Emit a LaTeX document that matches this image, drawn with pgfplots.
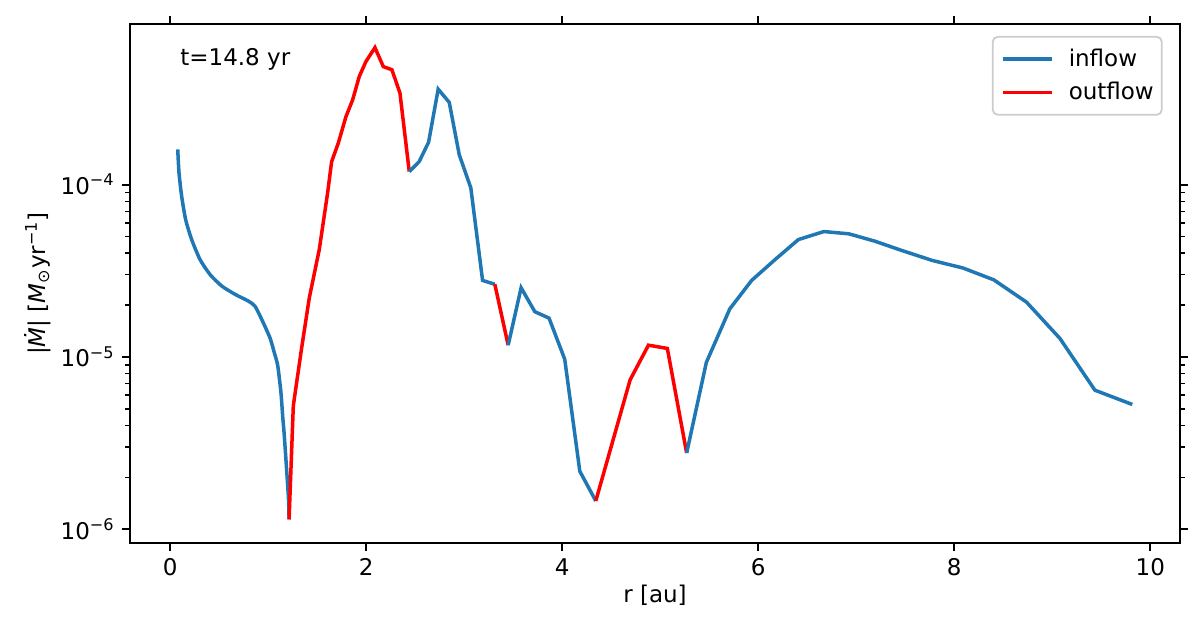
\documentclass[border=0pt]{standalone}
\usepackage{pgfplots}
\pgfplotsset{compat=1.18}
\usepackage{fontspec}
\setmainfont{DejaVu Sans}

\definecolor{mplblue}{HTML}{1F77B4}
\definecolor{mplred}{HTML}{FF0000}

\begin{document}
\begin{tikzpicture}
\begin{axis}[
    name=ax,
    at={(0,0)}, anchor=south west,
    scale only axis,
    width=525pt, height=259.5pt,
    ymode=log,
    xmin=-0.409, xmax=10.303,
    ymin=8.32e-7, ymax=8.55e-4,
    xtick={0,2,4,6,8,10},
    xticklabels={0,2,4,6,8,10},
    ytick={1e-6,1e-5,1e-4},
    yticklabels={10\textsuperscript{−6},10\textsuperscript{−5},10\textsuperscript{−4}},
    tick align=outside,
    tick pos=both,
    xticklabel pos=bottom,
    yticklabel pos=left,
    major tick length=4.1pt,
    minor tick length=2.3pt,
    every major tick/.append style={line width=0.95pt, black},
    every minor tick/.append style={line width=0.7pt, black},
    axis line style={line width=0.95pt},
    font=\fontsize{11.5}{14}\selectfont,
    xlabel={r [au]},
    ylabel={|\textit{Ṁ}| [\textit{M}\textsubscript{⊙}yr\textsuperscript{−1}]},
    xlabel style={yshift=2pt},
    ylabel style={yshift=-2pt},
    legend cell align=left,
    legend image code/.code={%
        \path[draw=none] (0pt,0pt) -- (34pt,0pt);
        \draw[#1] (3pt,0pt) -- (27.5pt,0pt);},
    legend style={at={(0.9835,0.977)}, anchor=north east,
        draw=black!20, line width=0.9pt, rounded corners=2.5pt,
        fill=white, inner xsep=2pt, inner ysep=4pt,
        row sep=2.5pt,
        font=\fontsize{11.5}{14}\selectfont},
    every axis plot/.append style={line width=1.75pt},
]
% inflow segments
\addplot[mplblue, forget plot, smooth, tension=0.4] coordinates {
(0.078,1.60e-4) (0.091,1.17e-4) (0.118,8.56e-5) (0.159,6.26e-5)
(0.220,4.80e-5) (0.305,3.68e-5) (0.407,3.01e-5) (0.527,2.58e-5)
(0.662,2.31e-5) (0.798,2.11e-5) (0.866,1.97e-5) (0.935,1.65e-5)
(1.019,1.29e-5) (1.063,1.06e-5) (1.098,8.9e-6) (1.131,6.2e-6)
(1.149,4.5e-6) (1.165,3.5e-6) (1.206,1.57e-6) (1.214,1.14e-6)
};
\addplot[mplred, forget plot] coordinates {
(1.214,1.14e-6) (1.257,5.2e-6) (1.335,1.06e-5) (1.420,2.2e-5)
(1.522,4.2e-5) (1.607,8.95e-5) (1.648,1.36e-4) (1.716,1.74e-4)
(1.794,2.48e-4) (1.862,3.1e-4) (1.930,4.24e-4) (1.998,5.18e-4)
(2.090,6.24e-4) (2.175,4.84e-4) (2.263,4.64e-4) (2.345,3.4e-4)
(2.440,1.19e-4)
};
\addplot[mplblue, forget plot] coordinates {
(2.440,1.19e-4) (2.541,1.36e-4) (2.637,1.76e-4) (2.735,3.58e-4)
(2.848,3.0e-4) (2.950,1.49e-4) (3.068,9.57e-5) (3.188,2.78e-5)
(3.313,2.64e-5)
};
\addplot[mplred, forget plot] coordinates {
(3.313,2.64e-5) (3.449,1.17e-5)
};
\addplot[mplblue, forget plot] coordinates {
(3.449,1.17e-5) (3.581,2.52e-5) (3.721,1.83e-5) (3.866,1.68e-5)
(4.026,9.7e-6) (4.180,2.17e-6) (4.343,1.46e-6)
};
\addplot[mplred, forget plot] coordinates {
(4.343,1.46e-6) (4.693,7.36e-6) (4.880,1.17e-5) (5.073,1.12e-5)
(5.270,2.77e-6)
};
\addplot[mplblue, forget plot] coordinates {
(5.270,2.77e-6) (5.471,9.3e-6) (5.710,1.9e-5) (5.933,2.78e-5)
(6.169,3.66e-5) (6.410,4.8e-5) (6.670,5.34e-5) (6.925,5.18e-5)
(7.188,4.7e-5) (7.463,4.15e-5) (7.776,3.63e-5) (8.090,3.28e-5)
(8.404,2.8e-5) (8.737,2.08e-5) (9.078,1.28e-5) (9.435,6.41e-6)
(9.816,5.3e-6)
};
\addlegendimage{mplblue, line width=1.75pt}
\addlegendentry{inflow}
\addlegendimage{mplred, line width=1.75pt}
\addlegendentry{outflow}

\node[anchor=base west, inner sep=0pt] at (rel axis cs:0.0476,0.921) {t=14.8 yr};
\end{axis}
\pgfresetboundingbox
\path[use as bounding box] (-65pt,-45.5pt) rectangle (535pt,271.5pt);
\end{tikzpicture}
\end{document}
